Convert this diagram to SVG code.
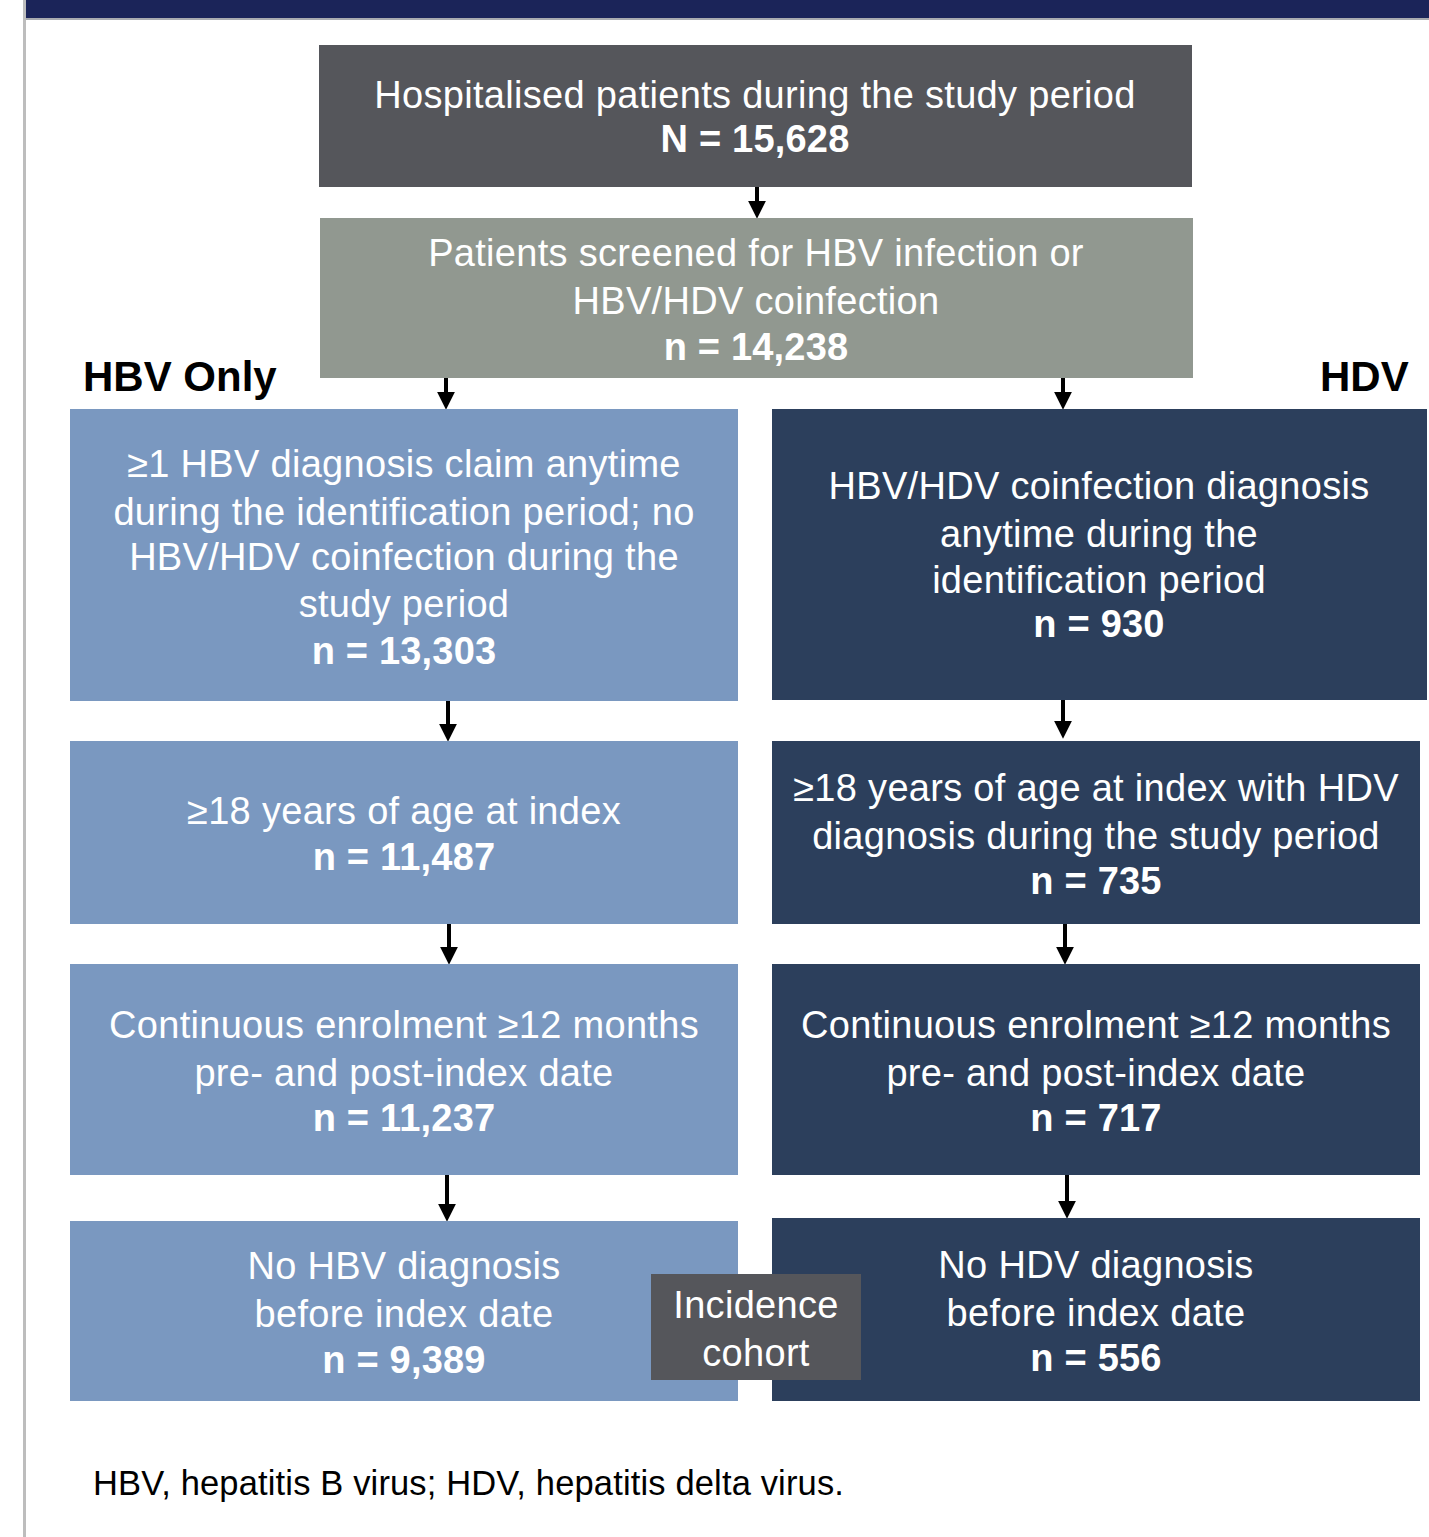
<svg xmlns="http://www.w3.org/2000/svg" width="1429" height="1537" viewBox="0 0 1429 1537">
<defs>
<style>
.t{font-family:"Liberation Sans",Arial,Helvetica,sans-serif;font-size:38px;fill:#ffffff;text-anchor:middle;letter-spacing:0.3px}
.b{font-weight:bold;letter-spacing:0.2px}
.lab{font-family:"Liberation Sans",Arial,Helvetica,sans-serif;font-size:42px;font-weight:bold;fill:#000000}
.foot{font-family:"Liberation Sans",Arial,Helvetica,sans-serif;font-size:34.5px;fill:#000000;letter-spacing:0.15px}
.grey{fill:#55565b}
.sage{fill:#919890}
.lb{fill:#7a98c0}
.db{fill:#2c3f5c}
.arr{stroke:#000000;stroke-width:4;fill:none;marker-end:url(#ah)}
</style>
<marker id="ah" markerUnits="userSpaceOnUse" markerWidth="18" markerHeight="18" viewBox="0 0 17 17" refX="5" refY="8.5" orient="auto">
<path d="M0,0 L17,8.5 L0,17 Z" fill="#000000"/>
</marker>
</defs>
<rect x="0" y="0" width="1429" height="1537" fill="#ffffff"/>
<rect x="25" y="0" width="1404" height="18" fill="#1b2459"/>
<rect x="25" y="18" width="1404" height="2" fill="#a9abb0"/>
<rect x="23" y="0" width="3" height="1537" fill="#bdbdbd"/>

<g id="connectors">
<line class="arr" x1="757" y1="187" x2="757" y2="206"/>
<line class="arr" x1="446" y1="378" x2="446" y2="397"/>
<line class="arr" x1="1063" y1="378" x2="1063" y2="397"/>
<line class="arr" x1="448" y1="701" x2="448" y2="729"/>
<line class="arr" x1="1063" y1="700" x2="1063" y2="726"/>
<line class="arr" x1="449" y1="924" x2="449" y2="952"/>
<line class="arr" x1="1065" y1="924" x2="1065" y2="952"/>
<line class="arr" x1="447" y1="1175" x2="447" y2="1209"/>
<line class="arr" x1="1067" y1="1175" x2="1067" y2="1206"/>
</g>

<g id="n-hospitalised">
<rect class="grey" x="319" y="45" width="873" height="142"/>
<text class="t" x="755" y="108">Hospitalised patients during the study period</text>
<text class="t b" x="755" y="152">N = 15,628</text>
</g>

<g id="n-screened">
<rect class="sage" x="320" y="218" width="873" height="160"/>
<text class="t" x="756" y="266">Patients screened for HBV infection or</text>
<text class="t" x="756" y="314">HBV/HDV coinfection</text>
<text class="t b" x="756" y="360">n = 14,238</text>
</g>

<g id="lbl-hbv-only">
<text class="lab" x="83" y="391">HBV Only</text>
</g>
<g id="lbl-hdv">
<text class="lab" x="1320" y="391">HDV</text>
</g>

<g id="n-hbv-1">
<rect class="lb" x="70" y="409" width="668" height="292"/>
<text class="t" x="404" y="477">≥1 HBV diagnosis claim anytime</text>
<text class="t" x="404" y="525">during the identification period; no</text>
<text class="t" x="404" y="570">HBV/HDV coinfection during the</text>
<text class="t" x="404" y="617">study period</text>
<text class="t b" x="404" y="664">n = 13,303</text>
</g>

<g id="n-hdv-1">
<rect class="db" x="772" y="409" width="655" height="291"/>
<text class="t" x="1099" y="499">HBV/HDV coinfection diagnosis</text>
<text class="t" x="1099" y="547">anytime during the</text>
<text class="t" x="1099" y="593">identification period</text>
<text class="t b" x="1099" y="637">n = 930</text>
</g>

<g id="n-hbv-2">
<rect class="lb" x="70" y="741" width="668" height="183"/>
<text class="t" x="404" y="824">≥18 years of age at index</text>
<text class="t b" x="404" y="870">n = 11,487</text>
</g>

<g id="n-hdv-2">
<rect class="db" x="772" y="741" width="648" height="183"/>
<text class="t" x="1096" y="801">≥18 years of age at index with HDV</text>
<text class="t" x="1096" y="849">diagnosis during the study period</text>
<text class="t b" x="1096" y="894">n = 735</text>
</g>

<g id="n-hbv-3">
<rect class="lb" x="70" y="964" width="668" height="211"/>
<text class="t" x="404" y="1038">Continuous enrolment ≥12 months</text>
<text class="t" x="404" y="1086">pre- and post-index date</text>
<text class="t b" x="404" y="1131">n = 11,237</text>
</g>

<g id="n-hdv-3">
<rect class="db" x="772" y="964" width="648" height="211"/>
<text class="t" x="1096" y="1038">Continuous enrolment ≥12 months</text>
<text class="t" x="1096" y="1086">pre- and post-index date</text>
<text class="t b" x="1096" y="1131">n = 717</text>
</g>

<g id="n-hbv-4">
<rect class="lb" x="70" y="1221" width="668" height="180"/>
<text class="t" x="404" y="1279">No HBV diagnosis</text>
<text class="t" x="404" y="1327">before index date</text>
<text class="t b" x="404" y="1373">n = 9,389</text>
</g>

<g id="n-hdv-4">
<rect class="db" x="772" y="1218" width="648" height="183"/>
<text class="t" x="1096" y="1278">No HDV diagnosis</text>
<text class="t" x="1096" y="1326">before index date</text>
<text class="t b" x="1096" y="1371">n = 556</text>
</g>

<g id="n-incidence">
<rect class="grey" x="651" y="1274" width="210" height="106"/>
<text class="t" x="756" y="1318">Incidence</text>
<text class="t" x="756" y="1366">cohort</text>
</g>

<g id="footnote">
<text class="foot" x="93" y="1495">HBV, hepatitis B virus; HDV, hepatitis delta virus.</text>
</g>
</svg>
